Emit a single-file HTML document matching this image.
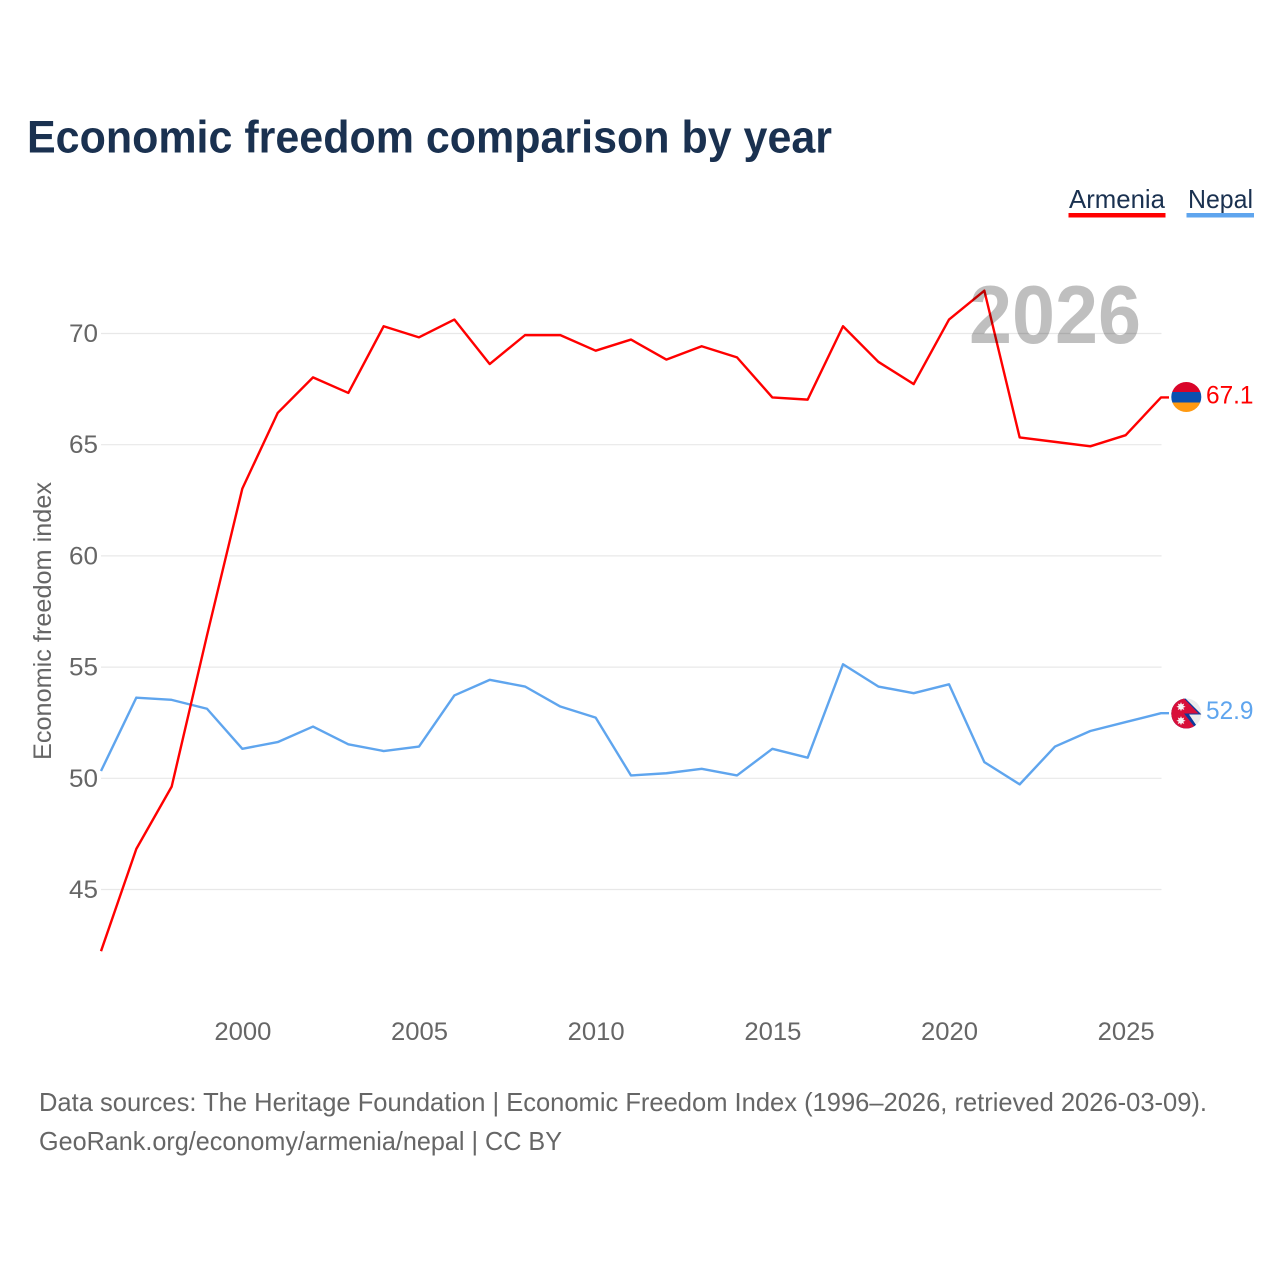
<!DOCTYPE html>
<html lang="en">
<head>
<meta charset="utf-8">
<title>Economic freedom comparison by year</title>
<style>
html,body{margin:0;padding:0;background:#fff;}
svg{display:block;font-family:"Liberation Sans",sans-serif;}
</style>
</head>
<body>
<svg id="chart" xmlns="http://www.w3.org/2000/svg" width="1280" height="1280" viewBox="0 0 1280 1280">
  <defs>
    <clipPath id="clip-am"><circle cx="1186.3" cy="397" r="15"/></clipPath>
    <clipPath id="clip-np"><circle cx="1186.3" cy="713.5" r="15"/></clipPath>
    <polygon id="np-star" points="4.6,0 2.3,0.95 3.25,3.25 0.95,2.3 0,4.6 -0.95,2.3 -3.25,3.25 -2.3,0.95 -4.6,0 -2.3,-0.95 -3.25,-3.25 -0.95,-2.3 0,-4.6 0.95,-2.3 3.25,-3.25 2.3,-0.95" fill="#f6f6f6"/>
  </defs>
  <rect x="0" y="0" width="1280" height="1280" fill="#ffffff"/>
  <text x="27" y="152.5" font-size="45" font-weight="700" fill="#1a3150" textLength="805" lengthAdjust="spacingAndGlyphs">Economic freedom comparison by year</text>

  <g>
    <g>
      <text x="1069" y="208" font-size="26" fill="#1a3150" textLength="96" lengthAdjust="spacingAndGlyphs">Armenia</text>
      <rect x="1068.5" y="213" width="97" height="4.5" fill="#ff0000"/>
    </g>
    <g>
      <text x="1188" y="208" font-size="26" fill="#1a3150" textLength="65" lengthAdjust="spacingAndGlyphs">Nepal</text>
      <rect x="1186.5" y="213" width="67.5" height="4.5" fill="#5fa5ee"/>
    </g>
  </g>

  <g id="grid"></g>
  <g id="y-ticks"></g>
  <g id="x-ticks"></g>
  <text transform="translate(51,621) rotate(-90)" text-anchor="middle" font-size="25" fill="#666666" textLength="278" lengthAdjust="spacingAndGlyphs">Economic freedom index</text>

  <g id="series" transform="translate(0,-0.6)"></g>

  <text x="969" y="343" font-size="83" font-weight="700" fill="#000000" fill-opacity="0.25" textLength="172" lengthAdjust="spacingAndGlyphs">2026</text>

  <g clip-path="url(#clip-am)">
    <rect x="1170" y="381" width="33" height="11" fill="#d90429"/>
    <rect x="1170" y="392" width="33" height="10.5" fill="#0a50b0"/>
    <rect x="1170" y="402.5" width="33" height="11" fill="#ff9a12"/>
  </g>
  <text id="end-label-armenia" x="1206" y="403.5" font-size="25" fill="#ff0000" textLength="47.5" lengthAdjust="spacingAndGlyphs"></text>

  <g clip-path="url(#clip-np)">
    <rect x="1170" y="697" width="33" height="33" fill="#ececec"/>
    <polygon points="1170,697 1184,697 1201.5,714.5 1189,714.5 1199.5,730 1170,730" fill="#0b3a9c"/>
    <polygon points="1170,697 1182.5,697 1198.5,713.5 1184,713.5 1197,730 1170,730" fill="#d80f3a"/>
    <use href="#np-star" transform="translate(1181,706.7)"/>
    <use href="#np-star" transform="translate(1181,720.7)"/>
  </g>
  <text id="end-label-nepal" x="1206" y="719" font-size="25" fill="#5fa5ee" textLength="47.5" lengthAdjust="spacingAndGlyphs"></text>

  <text x="39" y="1111" font-size="26" fill="#666666" textLength="1168" lengthAdjust="spacingAndGlyphs">Data sources: The Heritage Foundation | Economic Freedom Index (1996–2026, retrieved 2026-03-09).</text>
  <text x="39" y="1150" font-size="26" fill="#666666" textLength="523" lengthAdjust="spacingAndGlyphs">GeoRank.org/economy/armenia/nepal | CC BY</text>
</svg>

<script>
const years = [1996,1997,1998,1999,2000,2001,2002,2003,2004,2005,2006,2007,2008,2009,2010,2011,2012,2013,2014,2015,2016,2017,2018,2019,2020,2021,2022,2023,2024,2025,2026];
const armenia = [42.2,46.8,49.6,56.4,63.0,66.4,68.0,67.3,70.3,69.8,70.6,68.6,69.9,69.9,69.2,69.7,68.8,69.4,68.9,67.1,67.0,70.3,68.7,67.7,70.6,71.9,65.3,65.1,64.9,65.4,67.1];
const nepal = [50.3,53.6,53.5,53.1,51.3,51.6,52.3,51.5,51.2,51.4,53.7,54.4,54.1,53.2,52.7,50.1,50.2,50.4,50.1,51.3,50.9,55.1,54.1,53.8,54.2,50.7,49.7,51.4,52.1,52.5,52.9];
const yTicks = [45,50,55,60,65,70];
const xTicks = [2000,2005,2010,2015,2020,2025];

const NS = 'http://www.w3.org/2000/svg';
const xScale = function (v) { return 101 + (v - 1996) * (1060 / 30); };
const yScale = function (v) { return 333.5 + (70 - v) * (556 / 25); };

const gridLayer = document.getElementById('grid');
const yLayer = document.getElementById('y-ticks');
const xLayer = document.getElementById('x-ticks');
const seriesLayer = document.getElementById('series');

yTicks.forEach(function (t) {
  const line = document.createElementNS(NS, 'line');
  
  
  line.setAttribute('x1', xScale(1996));
  line.setAttribute('x2', xScale(2026) + 0.5);
  line.setAttribute('y1', yScale(t));
  line.setAttribute('y2', yScale(t));
  line.setAttribute('stroke', '#e8e8e8');
  line.setAttribute('stroke-width', '1.2');
  gridLayer.appendChild(line);

  const label = document.createElementNS(NS, 'text');
  
  
  label.setAttribute('x', '98');
  label.setAttribute('y', yScale(t) + 8.5);
  label.setAttribute('text-anchor', 'end');
  label.setAttribute('font-size', '25');
  label.setAttribute('fill', '#666666');
  label.setAttribute('textLength', '29');
  label.setAttribute('lengthAdjust', 'spacingAndGlyphs');
  label.textContent = t;
  yLayer.appendChild(label);
});

xTicks.forEach(function (t) {
  const label = document.createElementNS(NS, 'text');
  
  
  label.setAttribute('x', xScale(t) + 0.5);
  label.setAttribute('y', '1040');
  label.setAttribute('text-anchor', 'middle');
  label.setAttribute('font-size', '25');
  label.setAttribute('fill', '#666666');
  label.setAttribute('textLength', '57');
  label.setAttribute('lengthAdjust', 'spacingAndGlyphs');
  label.textContent = t;
  xLayer.appendChild(label);
});

function linePoints(values) {
  const pts = values.map(function (v, i) { return xScale(years[i]) + ',' + yScale(v); });
  const last = values[values.length - 1];
  pts.push((xScale(years[years.length - 1]) + 8) + ',' + yScale(last));
  return pts.join(' ');
}

const armeniaLine = document.createElementNS(NS, 'polyline');


armeniaLine.setAttribute('points', linePoints(armenia));
armeniaLine.setAttribute('fill', 'none');
armeniaLine.setAttribute('stroke', '#ff0000');
armeniaLine.setAttribute('stroke-width', '2.4');
armeniaLine.setAttribute('stroke-linejoin', 'round');

const nepalLine = document.createElementNS(NS, 'polyline');


nepalLine.setAttribute('points', linePoints(nepal));
nepalLine.setAttribute('fill', 'none');
nepalLine.setAttribute('stroke', '#5fa5ee');
nepalLine.setAttribute('stroke-width', '2.4');
nepalLine.setAttribute('stroke-linejoin', 'round');

seriesLayer.appendChild(nepalLine);
seriesLayer.appendChild(armeniaLine);

document.getElementById('end-label-armenia').textContent = armenia[armenia.length - 1].toFixed(1);
document.getElementById('end-label-nepal').textContent = nepal[nepal.length - 1].toFixed(1);
</script>
</body>
</html>
